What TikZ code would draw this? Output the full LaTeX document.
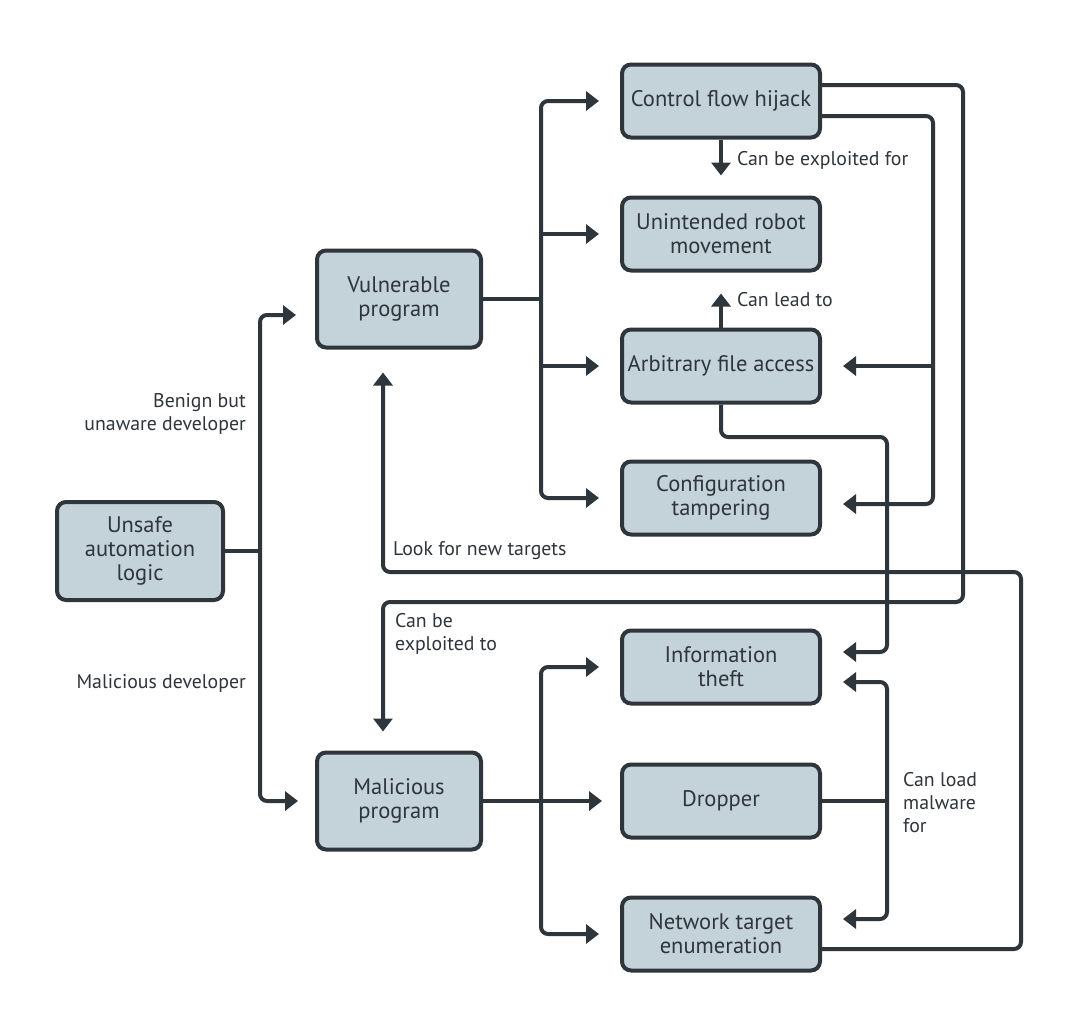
\documentclass[tikz,border=0pt]{standalone}
\usepackage{fontspec}
\setmainfont{PT Sans}
\usetikzlibrary{arrows.meta, positioning}
\definecolor{boxfill}{HTML}{C4D2DA}
\definecolor{ink}{HTML}{2E353B}
\tikzset{
  stage/.style = {draw = ink, fill = boxfill, line width = 4pt, rounded corners = 9pt, text = ink, align = center,
    minimum width = 198pt, minimum height = 73pt, inner sep = 2pt, font = \fontsize{22.5}{24}\selectfont},
  flow/.style = {draw = ink, line width = 4pt, rounded corners = 7pt},
  into/.style = {-{Triangle[length = 13pt, width = 19pt]}, shorten > = 21pt},
  note/.style = {text = ink, inner sep = 0pt, font = \fontsize{19.8}{23}\selectfont}
}

\begin{document}
\begin{tikzpicture}[x = 1pt, y = -1pt]
\fill [white] (0,0) rectangle (1080,1028);
\node [stage, minimum width = 166pt, minimum height = 98pt] (unsafe) at (140,551) {Unsafe\\automation\\logic};
\node [stage, minimum width = 164pt, minimum height = 97pt] (vuln) at (399,299) {Vulnerable\\program};
\node [stage, minimum width = 164pt, minimum height = 97pt] (mal) at (399,801) {Malicious\\program};
\node [stage] (hijack) at (721,101) {Control flow hijack};
\node [stage] (robot) at (721,234) {Unintended robot\\movement};
\node [stage] (file) at (721,366) {Arbitrary file access};
\node [stage] (config) at (721,498) {Configuration\\tampering};
\node [stage] (theft) at (721,667) {Information\\theft};
\node [stage] (dropper) at (721,801) {Dropper};
\node [stage] (netenum) at (721,934) {Network target\\enumeration};

\coordinate (split) at (260,551);
\coordinate (vsplit) at (541,299);
\coordinate (msplit) at (541,801);
\coordinate (dsplit) at (887,801);
\coordinate (rail) at (933,504);

\draw [flow] (unsafe.east) -- (split);
\draw [flow, into, shorten > = 19pt] (split) |- ([yshift = -16pt]vuln.west);
\draw [flow, into, shorten > = 17pt] (split) |- (mal.west);

\draw [flow] (vuln.east) -- (vsplit);
\draw [flow, into] (vsplit) |- (hijack.west);
\draw [flow, into] (vsplit |- robot.west) -- (robot.west);
\draw [flow, into] (vsplit |- file.west) -- (file.west);
\draw [flow, into] (vsplit) |- (config.west);

\draw [flow, into, shorten > = 20pt] (hijack.south) -- (robot.north);
\draw [flow, into] (file.north) -- (robot.south);

\draw [flow, into, shorten > = 19pt] ([yshift = 16pt]hijack.east) -| (963,602) -| ([xshift = -16pt]mal.north);
\draw [flow, into] ([yshift = -15pt]hijack.east) -| (rail) -- ([yshift = -6pt]config.east);
\draw [flow, into] (rail |- file.east) -- (file.east);

\draw [flow, into] (file.south) |- (887,437) |- ([yshift = 15pt]theft.east);
\draw [flow] (dropper.east) -- (dsplit);
\draw [flow, into] (dsplit) |- ([yshift = -15pt]theft.east);
\draw [flow, into] (dsplit) |- ([yshift = 15pt]netenum.east);
\draw [flow, into, shorten > = 23pt] ([yshift = -15pt]netenum.east) -| (1021,572) -| ([xshift = -16pt]vuln.south);

\draw [flow] (mal.east) -- (msplit);
\draw [flow, into] (msplit) |- (theft.west);
\draw [flow, into, shorten > = 18pt] (msplit) -- (dropper.west);
\draw [flow, into] (msplit) |- (netenum.west);

\node [note, anchor = east, align = right] (benign) at (246,414) {Benign but\\unaware developer};
\node [note, anchor = east] (malicious) at (246,683) {Malicious developer};
\node [note, anchor = west] (exploitfor) at (737,160) {Can be exploited for};
\node [note, anchor = west] (leadto) at (737,300) {Can lead to};
\node [note, anchor = west] (newtargets) at (393,551) {Look for new targets};
\node [note, anchor = west, align = left] (exploitto) at (395,634) {Can be\\exploited to};
\node [note, anchor = west, align = left] (loadfor) at (903,803) {Can load\\malware\\for};
\end{tikzpicture}
\end{document}
